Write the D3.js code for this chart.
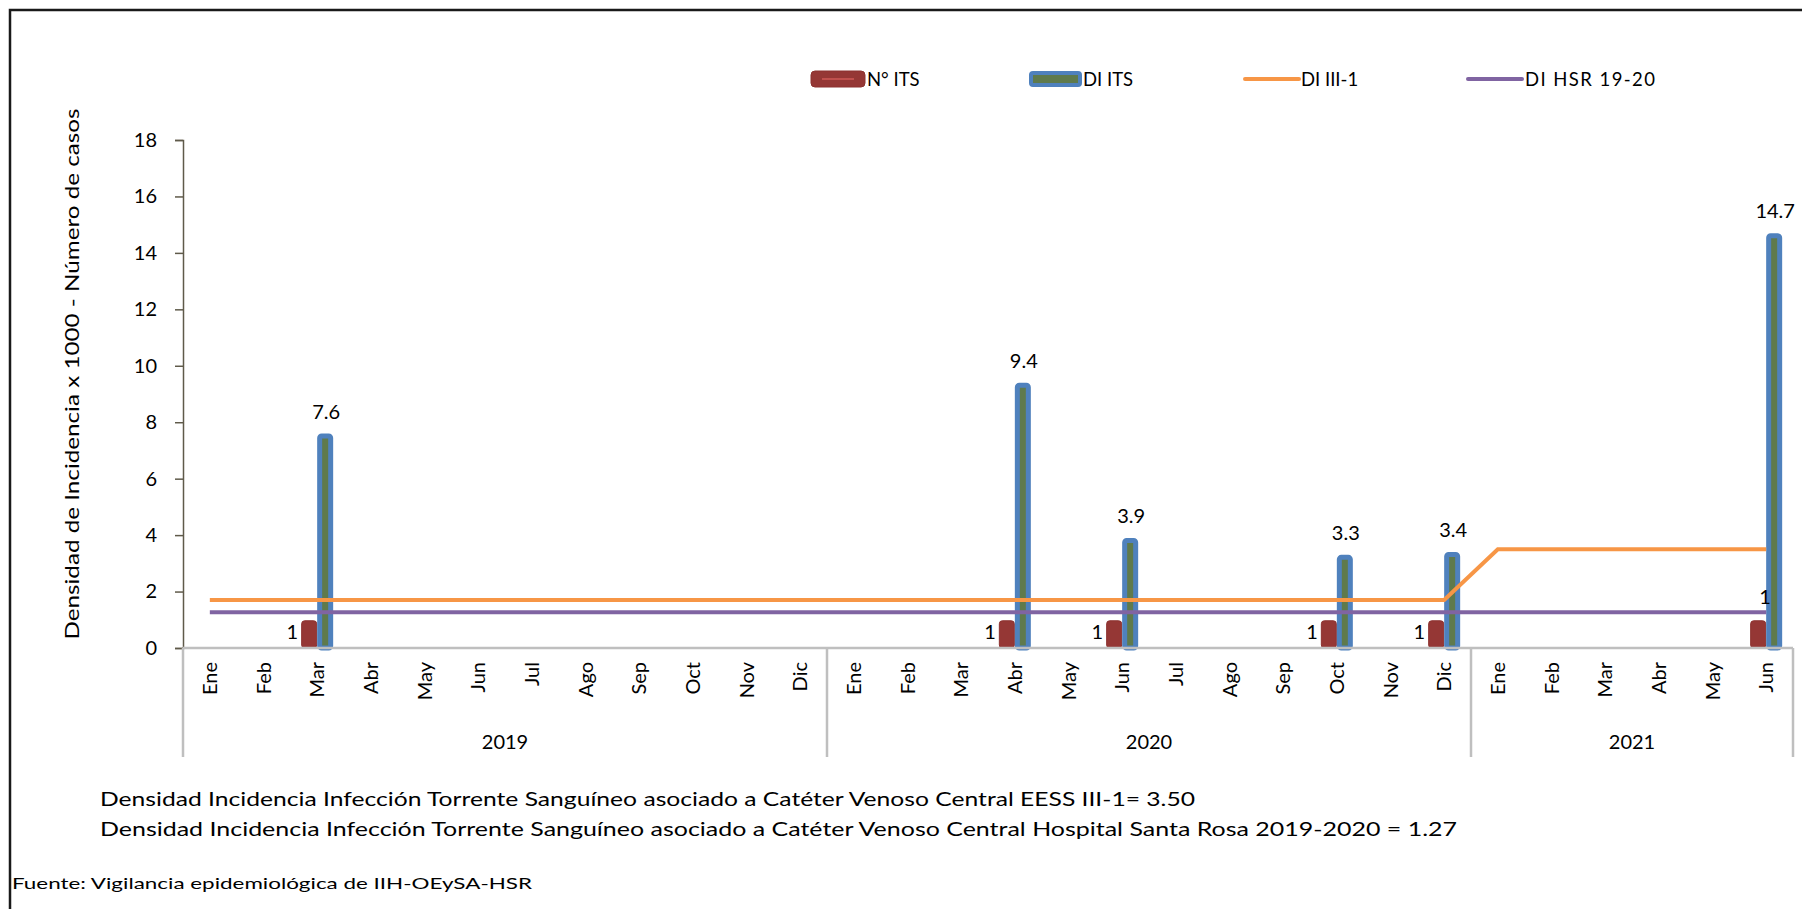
<!DOCTYPE html>
<html>
<head>
<meta charset="utf-8">
<script src="https://cdn.jsdelivr.net/npm/d3@7"></script>
<style>
  body { margin: 0; background: #fff; }
  svg { display: block; font-family: Lato, "Open Sans", sans-serif; }
</style>
</head>
<body>
<svg width="1802" height="909"></svg>
<script>
'use strict'

const YEARS = ['2019', '2020', '2021'];
const MONTHS = [
  ['Ene', 'Feb', 'Mar', 'Abr', 'May', 'Jun', 'Jul', 'Ago', 'Sep', 'Oct', 'Nov', 'Dic'],
  ['Ene', 'Feb', 'Mar', 'Abr', 'May', 'Jun', 'Jul', 'Ago', 'Sep', 'Oct', 'Nov', 'Dic'],
  ['Ene', 'Feb', 'Mar', 'Abr', 'May', 'Jun']
];
// N° ITS (cases)
const CASOS = [
  0, 0, 1, 0, 0, 0, 0, 0, 0, 0, 0, 0,
  0, 0, 0, 1, 0, 1, 0, 0, 0, 1, 0, 1,
  0, 0, 0, 0, 0, 1
];
// DI ITS
const DI_ITS = [
  0, 0, 7.6, 0, 0, 0, 0, 0, 0, 0, 0, 0,
  0, 0, 0, 9.4, 0, 3.9, 0, 0, 0, 3.3, 0, 3.4,
  0, 0, 0, 0, 0, 14.7
];
// DI III-1
const DI_III1 = [
  1.7, 1.7, 1.7, 1.7, 1.7, 1.7, 1.7, 1.7, 1.7, 1.7, 1.7, 1.7,
  1.7, 1.7, 1.7, 1.7, 1.7, 1.7, 1.7, 1.7, 1.7, 1.7, 1.7, 1.7,
  3.5, 3.5, 3.5, 3.5, 3.5, 3.5
];
// DI HSR 19-20
const DI_HSR = [
  1.27, 1.27, 1.27, 1.27, 1.27, 1.27, 1.27, 1.27, 1.27, 1.27, 1.27, 1.27,
  1.27, 1.27, 1.27, 1.27, 1.27, 1.27, 1.27, 1.27, 1.27, 1.27, 1.27, 1.27,
  1.27, 1.27, 1.27, 1.27, 1.27, 1.27
];
const Y_TICKS = [0, 2, 4, 6, 8, 10, 12, 14, 16, 18];

const RED = '#953735';
const BLUE = '#4f81bd';
const GREEN = '#5f7a4c';
const ORANGE = '#f79646';
const PURPLE = '#8064a2';
const GRID = '#bfbfbf';

const svg = d3.select('svg');

// frame
svg.append('rect')
  .attr('x', 10).attr('y', 10)
  .attr('width', 1810).attr('height', 920)
  .attr('fill', 'none').attr('stroke', '#1a1a1a').attr('stroke-width', 2.5);

const cats = [];
YEARS.forEach((yr, i) => MONTHS[i].forEach(m => cats.push({ year: yr, month: m, key: yr + '-' + m })));
cats.forEach((c, i) => {
  c.casos = CASOS[i];
  c.di = DI_ITS[i];
  c.iii = DI_III1[i];
  c.hsr = DI_HSR[i];
});

const x = d3.scaleBand().domain(cats.map(d => d.key)).range([183, 1793]);
const y = d3.scaleLinear().domain([0, 18]).range([648, 140]);
const cx = d => x(d.key) + x.bandwidth() / 2;

// y axis
const yAxis = svg.append('g')
  .attr('transform', 'translate(183,0)')
  .call(d3.axisLeft(y).tickValues(Y_TICKS).tickSize(8).tickPadding(18).tickFormat(d3.format('d')));
yAxis.select('.domain').attr('stroke', '#5f5a4a').attr('stroke-width', 1.5);
yAxis.selectAll('.tick line').attr('stroke', '#5f5a4a').attr('stroke-width', 1.5);
yAxis.selectAll('.tick text').attr('font-size', 20).attr('fill', '#000')
  .attr('font-family', 'Lato, sans-serif');

svg.append('text')
  .attr('transform', 'translate(79,374) rotate(-90)')
  .attr('text-anchor', 'middle')
  .attr('font-size', 20)
  .attr('textLength', 531).attr('lengthAdjust', 'spacingAndGlyphs')
  .text('Densidad de Incidencia x 1000 - Número de casos');

// bars
const BW = 16;
const bars = svg.append('g');
bars.selectAll('rect.casos')
  .data(cats.filter(d => d.casos > 0))
  .join('rect')
  .attr('class', 'casos')
  .attr('x', d => cx(d) - BW + 0.5)
  .attr('y', d => y(d.casos) + 1)
  .attr('width', BW - 1)
  .attr('height', d => y(0) - y(d.casos) - 1)
  .attr('rx', 3)
  .attr('fill', RED)
  .attr('stroke', '#8c3230').attr('stroke-width', 1);

bars.selectAll('rect.di')
  .data(cats.filter(d => d.di > 0))
  .join('rect')
  .attr('class', 'di')
  .attr('x', d => cx(d) + 2.5)
  .attr('y', d => y(d.di) + 2.5)
  .attr('width', BW - 5)
  .attr('height', d => y(0) - y(d.di) - 2.5)
  .attr('rx', 2)
  .attr('fill', GREEN)
  .attr('stroke', BLUE).attr('stroke-width', 5);

// x axis baseline and separators
svg.append('line')
  .attr('x1', 183).attr('x2', 1793).attr('y1', y(0)).attr('y2', y(0))
  .attr('stroke', GRID).attr('stroke-width', 2.5);

let idx = 0;
const bounds = [x(cats[0].key)];
YEARS.forEach((yr, i) => {
  idx += MONTHS[i].length;
  bounds.push(x(cats[idx - 1].key) + x.bandwidth());
});
svg.selectAll('line.sep')
  .data(bounds)
  .join('line')
  .attr('class', 'sep')
  .attr('x1', d => d).attr('x2', d => d)
  .attr('y1', y(0)).attr('y2', 757)
  .attr('stroke', GRID).attr('stroke-width', 2.5);

svg.selectAll('text.month')
  .data(cats)
  .join('text')
  .attr('class', 'month')
  .attr('transform', d => `translate(${cx(d) + 7},662) rotate(-90)`)
  .attr('text-anchor', 'end')
  .attr('font-size', 20)
  .text(d => d.month);

svg.selectAll('text.year')
  .data(YEARS)
  .join('text')
  .attr('class', 'year')
  .attr('x', (d, i) => (bounds[i] + bounds[i + 1]) / 2)
  .attr('y', 749)
  .attr('text-anchor', 'middle')
  .attr('font-size', 20)
  .text(d => d);

// lines
const line = v => d3.line().x(cx).y(d => y(d[v]));
svg.append('path').datum(cats)
  .attr('d', line('iii'))
  .attr('fill', 'none').attr('stroke', ORANGE).attr('stroke-width', 4);
svg.append('path').datum(cats)
  .attr('d', line('hsr'))
  .attr('fill', 'none').attr('stroke', PURPLE).attr('stroke-width', 4);

// data labels
svg.selectAll('text.lblDi')
  .data(cats.filter(d => d.di > 0))
  .join('text')
  .attr('class', 'lblDi')
  .attr('x', d => cx(d) + BW / 2 + 1)
  .attr('y', d => y(d.di) - 15)
  .attr('text-anchor', 'middle')
  .attr('font-size', 20)
  .text(d => d3.format('.1f')(d.di));

const casosData = cats.filter(d => d.casos > 0);
svg.selectAll('text.lblCasos')
  .data(casosData)
  .join('text')
  .attr('class', 'lblCasos')
  .attr('x', (d, i) => i === casosData.length - 1 ? cx(d) - 1 : cx(d) - BW - 3)
  .attr('y', (d, i) => i === casosData.length - 1 ? y(d.casos) - 16 : y(0) - 9)
  .attr('text-anchor', (d, i) => i === casosData.length - 1 ? 'middle' : 'end')
  .attr('font-size', 20)
  .text(d => d.casos);

// legend
const lg = svg.append('g').attr('font-size', 18.5);
lg.append('rect').attr('x', 811).attr('y', 71).attr('width', 54).attr('height', 16).attr('rx', 4)
  .attr('fill', RED).attr('stroke', '#8c3230');
lg.append('line').attr('x1', 822).attr('x2', 854).attr('y1', 79).attr('y2', 79)
  .attr('stroke', '#c0504d').attr('stroke-width', 2);
lg.append('text').attr('x', 867).attr('y', 86).text('N° ITS');

lg.append('rect').attr('x', 1031).attr('y', 73).attr('width', 49).attr('height', 12).attr('rx', 2)
  .attr('fill', GREEN).attr('stroke', BLUE).attr('stroke-width', 4);
lg.append('text').attr('x', 1083).attr('y', 86).text('DI ITS');

lg.append('line').attr('x1', 1245).attr('x2', 1299).attr('y1', 79).attr('y2', 79)
  .attr('stroke', ORANGE).attr('stroke-width', 4).attr('stroke-linecap', 'round');
lg.append('text').attr('x', 1301).attr('y', 86).text('DI III-1');

lg.append('line').attr('x1', 1468).attr('x2', 1522).attr('y1', 79).attr('y2', 79)
  .attr('stroke', PURPLE).attr('stroke-width', 4).attr('stroke-linecap', 'round');
lg.append('text').attr('x', 1525).attr('y', 86)
  .attr('textLength', 130).attr('lengthAdjust', 'spacing')
  .text('DI HSR 19-20');

// notes
svg.append('text').attr('x', 100).attr('y', 806).attr('font-size', 20)
  .attr('textLength', 1095).attr('lengthAdjust', 'spacingAndGlyphs')
  .text('Densidad Incidencia Infección Torrente Sanguíneo asociado a Catéter Venoso Central EESS III-1= 3.50');
svg.append('text').attr('x', 100).attr('y', 836).attr('font-size', 20)
  .attr('textLength', 1357).attr('lengthAdjust', 'spacingAndGlyphs')
  .text('Densidad Incidencia Infección Torrente Sanguíneo asociado a Catéter Venoso Central Hospital Santa Rosa 2019-2020  = 1.27');
svg.append('text').attr('x', 12).attr('y', 889).attr('font-size', 16)
  .attr('textLength', 520).attr('lengthAdjust', 'spacingAndGlyphs')
  .text('Fuente: Vigilancia epidemiológica de IIH-OEySA-HSR');
</script>
</body>
</html>
